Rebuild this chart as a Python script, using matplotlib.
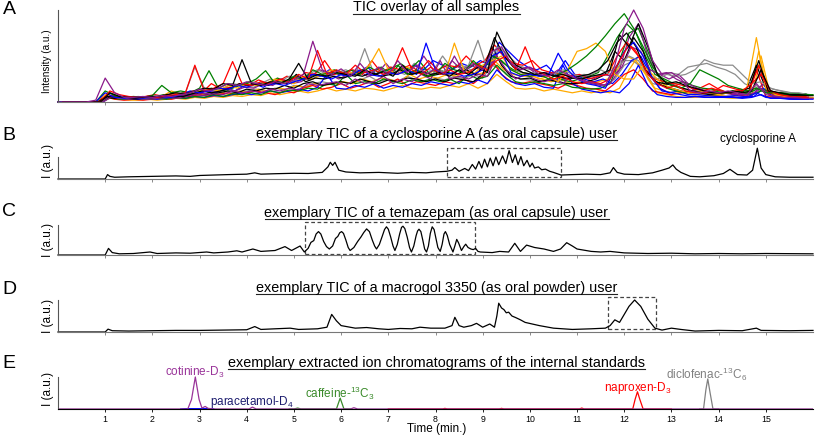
import numpy as np
import matplotlib
matplotlib.use("Agg")
from matplotlib import pyplot as plt
from matplotlib.patches import Rectangle
from matplotlib.lines import Line2D

plt.rcParams['font.family'] = ['Liberation Sans', 'DejaVu Sans']
plt.rcParams['mathtext.default'] = 'regular'

# ---------------- data ----------------
# panel A: overlay of TICs, sampled on four staggered 0.2-min grids
tA1 = np.round(np.arange(0, 16.01, 0.2), 2)
tA2 = np.round(np.arange(0.1, 16.0, 0.2), 2)
tA3 = np.round(np.arange(0.05, 16.0, 0.2), 2)
tA4 = np.round(np.arange(0.15, 16.0, 0.2), 2)

purple1 = [0, 0, 0, 0, 0.02, 0.26, 0.1, 0.05, 0.05, 0.06,
           0.05, 0.07, 0.06, 0.08, 0.1, 0.14, 0.12, 0.15, 0.2, 0.18,
           0.22, 0.2, 0.18, 0.22, 0.2, 0.24, 0.3, 0.66, 0.35, 0.3,
           0.36, 0.28, 0.42, 0.3, 0.38, 0.3, 0.45, 0.32, 0.4, 0.3,
           0.36, 0.3, 0.5, 0.32, 0.42, 0.35, 0.55, 0.6, 0.42, 0.35,
           0.38, 0.3, 0.28, 0.35, 0.3, 0.25, 0.22, 0.2, 0.18, 0.4,
           0.8, 1.0, 0.8, 0.45, 0.3, 0.32, 0.25, 0.12, 0.1, 0.12,
           0.1, 0.12, 0.1, 0.08, 0.2, 0.08, 0.06, 0.05, 0.05, 0.04,
           0.04]
green1 = [0, 0, 0, 0, 0, 0.12, 0.07, 0.05, 0.06, 0.05,
          0.07, 0.18, 0.1, 0.12, 0.1, 0.15, 0.34, 0.15, 0.2, 0.18,
          0.2, 0.25, 0.34, 0.2, 0.22, 0.28, 0.24, 0.35, 0.3, 0.32,
          0.3, 0.35, 0.3, 0.38, 0.32, 0.35, 0.4, 0.3, 0.35, 0.28,
          0.3, 0.42, 0.35, 0.32, 0.45, 0.35, 0.5, 0.45, 0.35, 0.3,
          0.28, 0.3, 0.25, 0.3, 0.35, 0.42, 0.5, 0.6, 0.72, 0.85,
          0.96, 0.8, 0.6, 0.38, 0.25, 0.18, 0.15, 0.2, 0.35, 0.3,
          0.25, 0.18, 0.15, 0.12, 0.15, 0.1, 0.1, 0.08, 0.08, 0.08,
          0.08]
orange1 = [0, 0, 0, 0, 0, 0.08, 0.05, 0.04, 0.05, 0.04,
           0.05, 0.06, 0.12, 0.08, 0.1, 0.12, 0.15, 0.12, 0.18, 0.15,
           0.2, 0.18, 0.2, 0.25, 0.22, 0.2, 0.28, 0.25, 0.3, 0.35,
           0.3, 0.32, 0.3, 0.4, 0.58, 0.35, 0.3, 0.38, 0.32, 0.3,
           0.35, 0.3, 0.64, 0.35, 0.3, 0.4, 0.45, 0.5, 0.35, 0.3,
           0.3, 0.25, 0.28, 0.22, 0.35, 0.55, 0.58, 0.64, 0.55, 0.3,
           0.25, 0.25, 0.4, 0.3, 0.2, 0.15, 0.12, 0.1, 0.12, 0.1,
           0.08, 0.1, 0.12, 0.15, 0.7, 0.15, 0.08, 0.06, 0.05, 0.05,
           0.05]
blue1 = [0, 0, 0, 0, 0, 0.1, 0.05, 0.04, 0.05, 0.04,
         0.05, 0.06, 0.05, 0.08, 0.12, 0.1, 0.12, 0.15, 0.14, 0.18,
         0.16, 0.2, 0.18, 0.2, 0.18, 0.22, 0.25, 0.3, 0.28, 0.25,
         0.3, 0.28, 0.35, 0.3, 0.28, 0.32, 0.3, 0.35, 0.3, 0.64,
         0.35, 0.3, 0.32, 0.28, 0.3, 0.35, 0.5, 0.55, 0.32, 0.28,
         0.3, 0.28, 0.3, 0.53, 0.35, 0.25, 0.2, 0.18, 0.15, 0.35,
         0.55, 0.65, 0.5, 0.25, 0.12, 0.1, 0.08, 0.06, 0.06, 0.05,
         0.05, 0.06, 0.05, 0.05, 0.1, 0.05, 0.04, 0.04, 0.03, 0.03,
         0.03]
red2 = [0, 0, 0, 0, 0, 0.06, 0.03, 0.02, 0.03, 0.02,
        0.03, 0.04, 0.03, 0.05, 0.06, 0.08, 0.06, 0.08, 0.1, 0.08,
        0.1, 0.12, 0.1, 0.08, 0.12, 0.1, 0.15, 0.18, 0.14, 0.16,
        0.2, 0.15, 0.18, 0.22, 0.16, 0.2, 0.25, 0.18, 0.22, 0.2,
        0.18, 0.22, 0.2, 0.25, 0.2, 0.28, 0.45, 0.3, 0.22, 0.2,
        0.22, 0.2, 0.18, 0.15, 0.2, 0.18, 0.15, 0.14, 0.12, 0.2,
        0.3, 0.35, 0.25, 0.12, 0.1, 0.08, 0.1, 0.12, 0.15, 0.2,
        0.14, 0.1, 0.08, 0.06, 0.35, 0.06, 0.05, 0.04, 0.04, 0.04,
        0.04]
black2 = [0, 0, 0, 0, 0, 0.05, 0.04, 0.04, 0.03, 0.04,
          0.04, 0.05, 0.06, 0.05, 0.07, 0.1, 0.08, 0.1, 0.12, 0.1,
          0.14, 0.12, 0.15, 0.14, 0.18, 0.15, 0.2, 0.22, 0.18, 0.2,
          0.22, 0.2, 0.25, 0.22, 0.2, 0.24, 0.22, 0.26, 0.25, 0.22,
          0.25, 0.22, 0.26, 0.24, 0.22, 0.3, 0.6, 0.4, 0.28, 0.25,
          0.26, 0.22, 0.24, 0.22, 0.2, 0.2, 0.22, 0.25, 0.3, 0.55,
          0.45, 0.7, 0.55, 0.25, 0.18, 0.15, 0.12, 0.1, 0.1, 0.08,
          0.08, 0.1, 0.08, 0.15, 0.4, 0.15, 0.1, 0.08, 0.07, 0.07,
          0.07]
gray2 = [0, 0, 0, 0, 0, 0.06, 0.04, 0.03, 0.04, 0.03,
         0.04, 0.05, 0.04, 0.06, 0.08, 0.07, 0.1, 0.08, 0.12, 0.1,
         0.12, 0.14, 0.12, 0.15, 0.13, 0.18, 0.16, 0.2, 0.22, 0.2,
         0.22, 0.2, 0.24, 0.28, 0.22, 0.25, 0.22, 0.28, 0.24, 0.22,
         0.26, 0.24, 0.28, 0.25, 0.3, 0.26, 0.4, 0.35, 0.28, 0.25,
         0.24, 0.22, 0.25, 0.22, 0.25, 0.2, 0.22, 0.2, 0.18, 0.25,
         0.4, 0.45, 0.35, 0.2, 0.18, 0.2, 0.15, 0.12, 0.1, 0.12,
         0.1, 0.1, 0.12, 0.1, 0.18, 0.1, 0.08, 0.08, 0.08, 0.07,
         0.07]

black1 = [0, 0, 0, 0, 0, 0.1, 0.06, 0.05, 0.05, 0.06,
          0.06, 0.08, 0.1, 0.09, 0.12, 0.15, 0.14, 0.2, 0.18, 0.46,
          0.2, 0.18, 0.22, 0.2, 0.25, 0.42, 0.25, 0.3, 0.28, 0.32,
          0.3, 0.28, 0.35, 0.3, 0.33, 0.28, 0.4, 0.3, 0.33, 0.3,
          0.32, 0.28, 0.35, 0.3, 0.38, 0.32, 0.76, 0.55, 0.4, 0.35,
          0.3, 0.32, 0.28, 0.3, 0.26, 0.25, 0.28, 0.3, 0.35, 0.73,
          0.6, 0.85, 0.6, 0.3, 0.2, 0.22, 0.18, 0.15, 0.12, 0.1,
          0.1, 0.12, 0.1, 0.12, 0.35, 0.12, 0.1, 0.08, 0.08, 0.07]
red1 = [0, 0, 0, 0, 0, 0.12, 0.08, 0.06, 0.05, 0.06,
        0.05, 0.07, 0.08, 0.1, 0.4, 0.12, 0.15, 0.2, 0.44, 0.2,
        0.18, 0.22, 0.2, 0.25, 0.22, 0.3, 0.25, 0.56, 0.3, 0.35,
        0.3, 0.4, 0.32, 0.35, 0.3, 0.35, 0.59, 0.35, 0.3, 0.38,
        0.3, 0.35, 0.3, 0.32, 0.4, 0.35, 0.45, 0.5, 0.35, 0.6,
        0.35, 0.3, 0.25, 0.28, 0.22, 0.2, 0.22, 0.2, 0.25, 0.45,
        0.62, 0.5, 0.3, 0.2, 0.15, 0.18, 0.12, 0.1, 0.1, 0.12,
        0.18, 0.15, 0.12, 0.2, 0.3, 0.12, 0.08, 0.06, 0.05, 0.05]
gray1 = [0, 0, 0, 0, 0, 0.1, 0.06, 0.05, 0.06, 0.05,
         0.07, 0.06, 0.08, 0.1, 0.38, 0.15, 0.12, 0.15, 0.2, 0.18,
         0.22, 0.2, 0.25, 0.22, 0.28, 0.25, 0.3, 0.35, 0.3, 0.32,
         0.35, 0.3, 0.58, 0.3, 0.35, 0.3, 0.38, 0.32, 0.35, 0.3,
         0.35, 0.3, 0.35, 0.4, 0.67, 0.35, 0.6, 0.5, 0.35, 0.3,
         0.32, 0.28, 0.3, 0.35, 0.3, 0.28, 0.3, 0.35, 0.3, 0.4,
         0.5, 0.45, 0.3, 0.25, 0.3, 0.28, 0.3, 0.35, 0.46, 0.42,
         0.4, 0.4, 0.3, 0.2, 0.22, 0.15, 0.12, 0.1, 0.1, 0.08]
blue2 = [0, 0, 0, 0, 0, 0.05, 0.04, 0.03, 0.03, 0.04,
         0.03, 0.04, 0.05, 0.04, 0.06, 0.05, 0.07, 0.06, 0.08, 0.1,
         0.08, 0.1, 0.12, 0.1, 0.12, 0.14, 0.12, 0.16, 0.3, 0.15,
         0.14, 0.18, 0.16, 0.2, 0.15, 0.18, 0.16, 0.2, 0.18, 0.22,
         0.2, 0.18, 0.22, 0.2, 0.24, 0.2, 0.35, 0.25, 0.2, 0.18,
         0.2, 0.16, 0.15, 0.4, 0.2, 0.14, 0.12, 0.1, 0.12, 0.1,
         0.2, 0.4, 0.18, 0.08, 0.06, 0.05, 0.05, 0.06, 0.05, 0.05,
         0.05, 0.05, 0.04, 0.05, 0.08, 0.04, 0.04, 0.03, 0.03, 0.03]
purple2 = [0, 0, 0, 0, 0, 0.07, 0.04, 0.03, 0.04, 0.03,
           0.04, 0.05, 0.04, 0.06, 0.08, 0.07, 0.09, 0.08, 0.12, 0.1,
           0.12, 0.1, 0.14, 0.12, 0.15, 0.13, 0.2, 0.18, 0.2, 0.22,
           0.18, 0.25, 0.2, 0.22, 0.28, 0.2, 0.25, 0.22, 0.3, 0.25,
           0.45, 0.25, 0.28, 0.25, 0.3, 0.28, 0.5, 0.35, 0.25, 0.3,
           0.25, 0.22, 0.25, 0.2, 0.3, 0.25, 0.2, 0.18, 0.2, 0.35,
           0.7, 0.85, 0.5, 0.3, 0.32, 0.25, 0.2, 0.12, 0.1, 0.1,
           0.1, 0.08, 0.08, 0.07, 0.15, 0.07, 0.06, 0.05, 0.05, 0.04]
orange2 = [0, 0, 0, 0, 0, 0.04, 0.03, 0.02, 0.02, 0.03,
           0.02, 0.03, 0.04, 0.03, 0.05, 0.04, 0.06, 0.05, 0.07, 0.06,
           0.08, 0.07, 0.1, 0.08, 0.1, 0.12, 0.1, 0.12, 0.15, 0.12,
           0.14, 0.12, 0.15, 0.14, 0.12, 0.15, 0.18, 0.15, 0.14, 0.16,
           0.15, 0.18, 0.16, 0.2, 0.15, 0.2, 0.3, 0.22, 0.15, 0.14,
           0.15, 0.12, 0.14, 0.12, 0.1, 0.12, 0.1, 0.12, 0.1, 0.15,
           0.35, 0.5, 0.25, 0.1, 0.08, 0.06, 0.05, 0.05, 0.06, 0.05,
           0.05, 0.04, 0.05, 0.06, 0.5, 0.06, 0.04, 0.04, 0.03, 0.03]
green2 = [0, 0, 0, 0, 0, 0.05, 0.03, 0.03, 0.04, 0.03,
          0.04, 0.03, 0.05, 0.04, 0.06, 0.05, 0.08, 0.06, 0.09, 0.08,
          0.1, 0.08, 0.12, 0.1, 0.13, 0.12, 0.15, 0.14, 0.2, 0.18,
          0.3, 0.2, 0.22, 0.2, 0.25, 0.22, 0.2, 0.24, 0.22, 0.25,
          0.22, 0.25, 0.2, 0.3, 0.25, 0.28, 0.4, 0.3, 0.22, 0.2,
          0.22, 0.2, 0.18, 0.2, 0.16, 0.15, 0.14, 0.15, 0.2, 0.45,
          0.75, 0.8, 0.55, 0.3, 0.15, 0.12, 0.1, 0.12, 0.1, 0.12,
          0.1, 0.12, 0.1, 0.08, 0.12, 0.1, 0.1, 0.09, 0.08, 0.08]

red3 = [0, 0, 0, 0, 0, 0.08, 0.05, 0.04, 0.05, 0.06,
        0.08, 0.06, 0.1, 0.08, 0.12, 0.1, 0.2, 0.14, 0.16, 0.2,
        0.18, 0.24, 0.2, 0.22, 0.28, 0.25, 0.32, 0.3, 0.45, 0.3,
        0.32, 0.35, 0.3, 0.45, 0.32, 0.38, 0.35, 0.4, 0.33, 0.45,
        0.35, 0.4, 0.38, 0.5, 0.4, 0.45, 0.62, 0.5, 0.42, 0.4,
        0.45, 0.35, 0.32, 0.3, 0.28, 0.3, 0.25, 0.28, 0.3, 0.5,
        0.65, 0.55, 0.35, 0.25, 0.22, 0.2, 0.18, 0.15, 0.12, 0.15,
        0.12, 0.1, 0.14, 0.12, 0.4, 0.1, 0.08, 0.07, 0.06, 0.06]
green3 = [0, 0, 0, 0, 0, 0.07, 0.05, 0.04, 0.05, 0.04,
          0.06, 0.08, 0.07, 0.1, 0.08, 0.12, 0.15, 0.12, 0.14, 0.18,
          0.22, 0.18, 0.2, 0.26, 0.22, 0.28, 0.25, 0.3, 0.28, 0.35,
          0.32, 0.3, 0.35, 0.32, 0.38, 0.3, 0.42, 0.35, 0.45, 0.32,
          0.35, 0.32, 0.4, 0.35, 0.42, 0.38, 0.5, 0.42, 0.35, 0.32,
          0.3, 0.28, 0.3, 0.25, 0.22, 0.25, 0.28, 0.32, 0.5, 0.7,
          0.85, 0.75, 0.5, 0.3, 0.25, 0.2, 0.22, 0.18, 0.15, 0.14,
          0.12, 0.1, 0.12, 0.1, 0.15, 0.12, 0.1, 0.1, 0.09, 0.09]
black3 = [0, 0, 0, 0, 0, 0.06, 0.05, 0.05, 0.04, 0.05,
          0.05, 0.06, 0.07, 0.06, 0.09, 0.12, 0.1, 0.12, 0.15, 0.2,
          0.18, 0.2, 0.18, 0.22, 0.2, 0.3, 0.22, 0.26, 0.25, 0.28,
          0.26, 0.3, 0.28, 0.32, 0.28, 0.3, 0.35, 0.3, 0.32, 0.28,
          0.3, 0.32, 0.3, 0.35, 0.3, 0.4, 0.7, 0.5, 0.38, 0.32,
          0.3, 0.28, 0.3, 0.27, 0.25, 0.28, 0.3, 0.35, 0.45, 0.65,
          0.75, 0.6, 0.35, 0.22, 0.2, 0.18, 0.15, 0.12, 0.1, 0.1,
          0.1, 0.1, 0.12, 0.15, 0.45, 0.12, 0.1, 0.08, 0.07, 0.07]
orange3 = [0, 0, 0, 0, 0, 0.05, 0.04, 0.03, 0.04, 0.04,
           0.05, 0.04, 0.06, 0.05, 0.07, 0.08, 0.07, 0.1, 0.08, 0.12,
           0.1, 0.14, 0.12, 0.15, 0.14, 0.18, 0.16, 0.2, 0.18, 0.2,
           0.22, 0.2, 0.25, 0.22, 0.26, 0.24, 0.22, 0.3, 0.25, 0.28,
           0.26, 0.3, 0.28, 0.35, 0.3, 0.32, 0.45, 0.35, 0.3, 0.28,
           0.28, 0.25, 0.22, 0.25, 0.2, 0.22, 0.2, 0.22, 0.25, 0.35,
           0.5, 0.45, 0.3, 0.15, 0.12, 0.1, 0.1, 0.08, 0.08, 0.07,
           0.07, 0.06, 0.07, 0.08, 0.55, 0.08, 0.06, 0.05, 0.05, 0.04]
blue3 = [0, 0, 0, 0, 0, 0.07, 0.05, 0.04, 0.04, 0.05,
         0.05, 0.07, 0.06, 0.08, 0.1, 0.12, 0.1, 0.15, 0.12, 0.18,
         0.2, 0.16, 0.22, 0.25, 0.2, 0.24, 0.3, 0.28, 0.35, 0.3,
         0.28, 0.32, 0.38, 0.3, 0.35, 0.3, 0.33, 0.4, 0.35, 0.45,
         0.4, 0.35, 0.42, 0.38, 0.45, 0.4, 0.65, 0.55, 0.45, 0.38,
         0.35, 0.4, 0.3, 0.45, 0.3, 0.25, 0.22, 0.25, 0.2, 0.3,
         0.45, 0.5, 0.3, 0.15, 0.1, 0.12, 0.08, 0.08, 0.07, 0.06,
         0.06, 0.07, 0.06, 0.06, 0.15, 0.06, 0.05, 0.05, 0.04, 0.04]
purple3 = [0, 0, 0, 0, 0, 0.06, 0.04, 0.05, 0.04, 0.05,
           0.06, 0.05, 0.08, 0.07, 0.1, 0.09, 0.12, 0.15, 0.12, 0.16,
           0.15, 0.2, 0.18, 0.25, 0.2, 0.22, 0.28, 0.35, 0.3, 0.25,
           0.3, 0.35, 0.28, 0.3, 0.42, 0.3, 0.35, 0.32, 0.5, 0.35,
           0.3, 0.45, 0.35, 0.4, 0.35, 0.38, 0.55, 0.45, 0.35, 0.38,
           0.3, 0.32, 0.28, 0.25, 0.3, 0.28, 0.25, 0.3, 0.28, 0.38,
           0.6, 0.55, 0.35, 0.3, 0.25, 0.3, 0.2, 0.15, 0.12, 0.1,
           0.1, 0.09, 0.08, 0.1, 0.2, 0.08, 0.07, 0.06, 0.06, 0.05]
gray3 = [0, 0, 0, 0, 0, 0.06, 0.05, 0.04, 0.05, 0.05,
         0.06, 0.07, 0.06, 0.09, 0.1, 0.09, 0.12, 0.14, 0.12, 0.18,
         0.16, 0.22, 0.2, 0.24, 0.22, 0.26, 0.24, 0.3, 0.28, 0.32,
         0.3, 0.34, 0.32, 0.36, 0.3, 0.34, 0.3, 0.42, 0.36, 0.34,
         0.5, 0.36, 0.4, 0.35, 0.38, 0.36, 0.6, 0.5, 0.4, 0.36,
         0.34, 0.3, 0.32, 0.3, 0.28, 0.3, 0.28, 0.3, 0.35, 0.45,
         0.45, 0.4, 0.35, 0.3, 0.32, 0.3, 0.38, 0.4, 0.42, 0.38,
         0.35, 0.3, 0.2, 0.15, 0.18, 0.14, 0.12, 0.1, 0.09, 0.08]

# panel B: cyclosporine A user
tB = [0, 1.0, 1.05, 1.1, 1.2, 1.5, 2.0, 2.5, 2.8, 3.0, 3.3, 3.6, 4.0, 4.17, 4.3,
      4.6, 5.0, 5.3, 5.6, 5.72, 5.77, 5.82, 5.87, 5.95, 6.1, 6.4, 6.8, 7.2, 7.5,
      7.8, 8.0, 8.24, 8.35, 8.41, 8.5, 8.62, 8.7, 8.78, 8.85, 8.92, 8.98, 9.04,
      9.1, 9.16, 9.22, 9.28, 9.34, 9.42, 9.49, 9.56, 9.63, 9.69, 9.75, 9.81, 9.87,
      9.94, 10.0, 10.05, 10.1, 10.18, 10.25, 10.33, 10.42, 10.5, 10.66, 10.9,
      11.2, 11.5, 11.7, 11.77, 11.85, 12.0, 12.3, 12.6, 12.8, 12.95, 13.03, 13.1,
      13.2, 13.4, 13.6, 13.9, 14.1, 14.24, 14.4, 14.6, 14.72, 14.82, 14.9, 15.0,
      15.2, 15.5, 16.0]
yB = [0, 0, 0.2, 0.12, 0.08, 0.1, 0.12, 0.14, 0.12, 0.16, 0.18, 0.2, 0.22, 0.28, 0.22,
      0.24, 0.26, 0.25, 0.3, 0.55, 0.76, 0.62, 0.76, 0.4, 0.32, 0.28, 0.3, 0.26, 0.3,
      0.28, 0.32, 0.35, 0.4, 0.52, 0.35, 0.48, 0.38, 0.66, 0.45, 0.8, 0.5, 0.9,
      0.55, 0.95, 0.6, 1.0, 0.65, 1.05, 0.7, 1.29, 0.75, 1.1, 0.65, 1.02, 0.6,
      0.85, 0.55, 0.72, 0.5, 0.55, 0.42, 0.45, 0.35, 0.3, 0.18, 0.2,
      0.22, 0.2, 0.28, 0.52, 0.3, 0.22, 0.2, 0.28, 0.4, 0.5, 0.64, 0.45,
      0.3, 0.12, 0.1, 0.15, 0.25, 0.44, 0.2, 0.18, 0.4, 1.4, 0.5, 0.2,
      0.1, 0.08, 0.08]

# panel C: temazepam user
tC = [0, 1.0, 1.07, 1.15, 1.3, 1.6, 1.95, 2.1, 2.5, 2.8, 3.15, 3.3, 3.6, 3.79, 3.9,
      4.13, 4.3, 4.6, 4.81, 4.95, 5.13,
      5.22, 5.3, 5.36, 5.42, 5.47, 5.52, 5.57, 5.63, 5.69, 5.75,
      5.82, 5.88, 5.93, 5.97, 6.01, 6.05, 6.1, 6.15, 6.19,
      6.27, 6.35, 6.42, 6.48, 6.54, 6.6, 6.66, 6.71, 6.75,
      6.81, 6.87, 6.92, 6.96, 7.0, 7.05, 7.1, 7.14,
      7.19, 7.24, 7.28, 7.31, 7.35, 7.4, 7.45, 7.49,
      7.54, 7.59, 7.62, 7.65, 7.69, 7.73, 7.77, 7.81,
      7.85, 7.89, 7.93, 7.97, 8.01, 8.05, 8.1,
      8.14, 8.18, 8.21, 8.25, 8.3, 8.37,
      8.41, 8.45, 8.49, 8.55, 8.6, 8.64, 8.69, 8.75, 8.8, 8.85, 8.9, 8.95,
      9.2, 9.36, 9.55, 9.68, 9.8, 9.93,
      10.1, 10.3, 10.5, 10.65, 10.78, 10.9, 11.0, 11.3, 11.5, 11.7, 12.0, 12.5,
      13.0, 13.5, 14.0, 14.5, 15.0, 16.0]
yC = [0, 0, 0.22, 0.08, 0.04, 0.05, 0.1, 0.05, 0.07, 0.06, 0.1, 0.07, 0.1, 0.14, 0.1,
      0.2, 0.12, 0.15, 0.28, 0.15, 0.3,
      0.1, 0.22, 0.42, 0.48, 0.7, 0.78, 0.7, 0.45, 0.28, 0.2,
      0.3, 0.55, 0.62, 0.74, 0.78, 0.72, 0.5, 0.25, 0.15,
      0.25, 0.45, 0.6, 0.75, 0.87, 0.78, 0.5, 0.3, 0.2,
      0.35, 0.62, 0.85, 0.94, 0.86, 0.6, 0.3, 0.15,
      0.35, 0.7, 0.92, 0.96, 0.88, 0.6, 0.25, 0.1,
      0.3, 0.65, 0.8, 0.86, 0.78, 0.5, 0.2, 0.1,
      0.3, 0.72, 0.94, 0.85, 0.55, 0.25, 0.12,
      0.35, 0.7, 0.78, 0.65, 0.35, 0.1,
      0.3, 0.52, 0.4, 0.15, 0.28, 0.36, 0.25, 0.2, 0.18, 0.22, 0.12, 0.1,
      0.08, 0.12, 0.1, 0.39, 0.12, 0.33,
      0.25, 0.2, 0.12, 0.2, 0.41, 0.3, 0.2, 0.12, 0.1, 0.12, 0.07, 0.05,
      0.06, 0.04, 0.05, 0.04, 0.05, 0.04]

# panel D: macrogol 3350 user
tD = [0, 1.0, 1.06, 1.15, 1.5, 2.0, 2.5, 3.0, 3.5, 4.0, 4.17, 4.3, 4.6, 4.92, 5.1,
      5.5, 5.7, 5.8, 5.9, 6.0, 6.3, 6.54, 6.8, 7.0, 7.25, 7.5, 7.67, 7.9, 8.2, 8.35,
      8.41, 8.5, 8.6, 8.76, 8.87, 9.0, 9.15, 9.25, 9.3, 9.34, 9.4, 9.45, 9.5, 9.55,
      9.62, 9.7, 9.8, 9.9, 10.05, 10.2, 10.5, 10.9, 11.3, 11.6, 11.7, 11.8, 11.9,
      12.0, 12.1, 12.22, 12.35, 12.5, 12.65, 12.8, 13.0, 13.2, 13.5, 14.0, 14.5,
      14.8, 14.9, 15.5, 16.0]
yD = [0, 0, 0.09, 0.04, 0.03, 0.04, 0.05, 0.05, 0.06, 0.07, 0.17, 0.08, 0.1, 0.12, 0.08,
      0.1, 0.15, 0.55, 0.35, 0.2, 0.12, 0.14, 0.1, 0.08, 0.11, 0.1, 0.15, 0.12, 0.12, 0.2,
      0.46, 0.2, 0.15, 0.2, 0.27, 0.15, 0.25, 0.15, 0.5, 0.9, 0.75, 0.7, 0.6, 0.62,
      0.5, 0.45, 0.38, 0.3, 0.25, 0.2, 0.12, 0.08, 0.1, 0.12, 0.2, 0.38, 0.3,
      0.55, 0.8, 1.0, 0.8, 0.4, 0.12, 0.06, 0.12, 0.08, 0.03, 0.05, 0.04,
      0.12, 0.05, 0.04, 0.05]

# panel E: extracted ion chromatograms of the internal standards
tE_cot = [0, 2.75, 2.83, 2.91, 2.99, 3.05, 3.12, 3.18, 3.3, 4.05, 4.12, 4.2, 6.2, 6.27, 6.35, 16]
yE_cot = [0, 0, 0.3, 1.0, 0.3, 0.03, 0.08, 0.02, 0, 0, 0.06, 0, 0, 0.04, 0, 0]
tE_par = [2.6, 2.7, 3.2, 3.3]
yE_par = [0, 0.01, 0.01, 0]
tE_caf = [4.9, 5.0, 5.08, 5.15, 5.9, 5.98, 6.06, 6.2]
yE_caf = [0, 0, 0.03, 0, 0, 0.34, 0, 0]
tE_nap = [7.0, 8.15, 8.2, 8.25, 9.35, 9.4, 9.45, 11.05, 11.1, 11.15, 12.18, 12.23, 12.28, 12.33, 12.4, 13.0]
yE_nap = [0, 0, 0.02, 0, 0, 0.02, 0, 0, 0.03, 0, 0, 0.3, 0.54, 0.3, 0, 0]
tE_dic = [13.6, 13.68, 13.73, 13.77, 13.82, 13.88, 14.0]
yE_dic = [0, 0, 0.6, 0.94, 0.5, 0, 0]

# ---------------- layout ----------------
W, H = 816, 437
X0, X1 = 58, 813
fig = plt.figure(figsize=(W / 100, H / 100), dpi=100)


def ftext(px, py, s, **kw):
    return fig.text(px / W, 1 - py / H, s, **kw)


def panel(base, scale, top):
    # base: baseline in px from top, scale: px per unit, top: upper y-limit
    ax = fig.add_axes([X0 / W, 1 - base / H, (X1 - X0) / W, top * scale / H])
    ax.set_xlim(0, 16)
    ax.set_ylim(0, top)
    ax.patch.set_alpha(0)
    for s in ['top', 'right']:
        ax.spines[s].set_visible(False)
    ax.spines['left'].set_bounds(0, 1)
    ax.spines['left'].set_color('#555555')
    ax.spines['bottom'].set_color('#777777')
    ax.spines['left'].set_linewidth(0.8)
    ax.spines['bottom'].set_linewidth(0.8)
    ax.set_yticks([])
    ax.set_xticks(range(1, 16))
    ax.tick_params(axis='x', length=2, width=0.6, color='#777777', labelbottom=False)
    return ax


axA = panel(102, 92, 1.02)
axB = panel(179, 22, 1.5)
axC = panel(255, 30, 1.15)
axD = panel(332, 32, 1.12)
axE = panel(409, 32, 1.05)

# panel A traces
col = {'purple': '#8b1a8b', 'red': '#ff0000', 'blue': '#0000ff', 'green': '#008000',
       'black': '#000000', 'gray': '#8c8c8c', 'orange': '#ffaa00'}
tracesA = [(tA4, gray3, 'gray'), (tA1, gray2, 'gray'), (tA3, orange3, 'orange'),
           (tA2, orange2, 'orange'), (tA1, red2, 'red'), (tA4, blue3, 'blue'),
           (tA2, blue2, 'blue'), (tA3, green3, 'green'), (tA2, green2, 'green'),
           (tA1, black2, 'black'), (tA4, purple3, 'purple'), (tA2, purple2, 'purple'),
           (tA3, red3, 'red'), (tA2, gray1, 'gray'), (tA1, orange1, 'orange'),
           (tA3, black3, 'black'), (tA1, green1, 'green'), (tA1, blue1, 'blue'),
           (tA2, red1, 'red'), (tA2, black1, 'black'), (tA1, purple1, 'purple')]
for t, y, c in tracesA:
    axA.plot(t, y, color=col[c], lw=0.9, clip_on=False)

for ax, t, y in [(axB, tB, yB), (axC, tC, yC), (axD, tD, yD)]:
    ax.plot(t, y, color='black', lw=0.9, clip_on=False)

axE.plot([0, 16], [0, 0], color='black', lw=0.8)
axE.plot(tE_par, yE_par, color='#0000ff', lw=0.9)
axE.plot(tE_caf, yE_caf, color='#3a8a2a', lw=0.9)
axE.plot(tE_nap, yE_nap, color='#ff0000', lw=0.9)
axE.plot(tE_dic, yE_dic, color='#808080', lw=0.9)
axE.plot(tE_cot, yE_cot, color='#993399', lw=0.9)
axE.spines['bottom'].set_color('black')
axE.tick_params(axis='x', labelbottom=True, labelsize=6.3, pad=2, color='black')

# dashed boxes
for ax, x0, x1, y0, y1 in [(axB, 8.24, 10.66, 0.09, 1.41),
                           (axC, 5.23, 8.83, 0.03, 1.11),
                           (axD, 11.65, 12.67, 0.09, 1.09)]:
    ax.add_patch(Rectangle((x0, y0), x1 - x0, y1 - y0, fill=False, ls=(0, (3, 2)),
                           lw=0.9, edgecolor='#444444', clip_on=False))

# panel letters
for letter, py in [('A', 10), ('B', 135), ('C', 212), ('D', 289), ('E', 363)]:
    ftext(9, py, letter, fontsize=14, ha='center', va='center')

# titles (underlined)
titles = [("TIC overlay of all samples", 7.5),
          ("exemplary TIC of a cyclosporine A (as oral capsule) user", 134),
          ("exemplary TIC of a temazepam (as oral capsule) user", 212.5),
          ("exemplary TIC of a macrogol 3350 (as oral powder) user", 288),
          ("exemplary extracted ion chromatograms of the internal standards", 362.5)]
title_artists = [ftext(436.5, py, s, fontsize=10.4, ha='center', va='center') for s, py in titles]

# y labels
ftext(47, 61, "Intensity (a.u.)", fontsize=7.2, rotation=90, ha='center', va='center')
for py in [161, 240, 316, 389]:
    ftext(48, py, "I (a.u.)", fontsize=8.5, rotation=90, ha='center', va='center')

ftext(437, 429, "Time (min.)", fontsize=8.5, ha='center', va='center')
ftext(758, 139, "cyclosporine A", fontsize=8.5, ha='center', va='center')

# internal standard labels
ftext(195, 372, "cotinine-D$_3$", fontsize=8.5, color='#993399', ha='center', va='center')
ftext(252, 401.5, "paracetamol-D$_4$", fontsize=8.5, color='#1c1c6e', ha='center', va='center')
ftext(340, 393, "caffeine-$^{13}$C$_3$", fontsize=8.5, color='#3a8a2a', ha='center', va='center')
ftext(638, 388, "naproxen-D$_3$", fontsize=8.5, color='#ff0000', ha='center', va='center')
ftext(707, 374, "diclofenac-$^{13}$C$_6$", fontsize=8.5, color='#808080', ha='center', va='center')

# underline the titles
fig.canvas.draw()
r = fig.canvas.get_renderer()
inv = fig.transFigure.inverted()
for t in title_artists:
    bb = t.get_window_extent(r)
    (x0, y0), (x1, _) = inv.transform([(bb.x0, bb.y0 + 1), (bb.x1, bb.y0)])
    fig.add_artist(Line2D([x0, x1], [y0, y0], transform=fig.transFigure, color='#222222', lw=0.8))

fig.savefig("out.png", dpi=100)
